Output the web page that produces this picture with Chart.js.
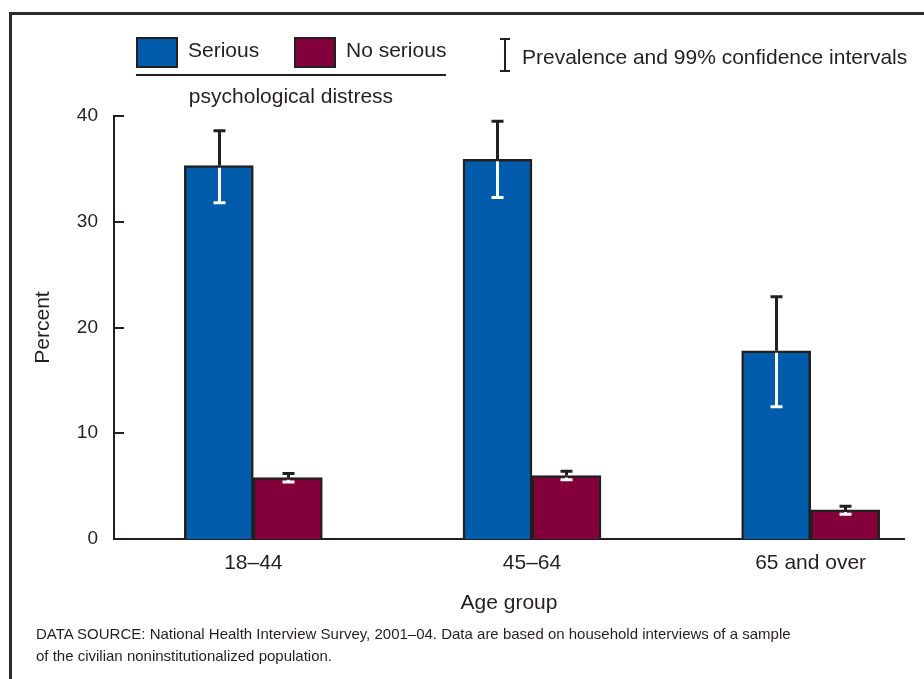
<!DOCTYPE html>
<html>
<head>
<meta charset="utf-8">
<script src="https://cdn.jsdelivr.net/npm/chart.js@4/dist/chart.umd.min.js"></script>
<style>
  html, body { margin: 0; padding: 0; background: #fff; overflow: hidden; }
  body { width: 924px; height: 679px; position: relative; font-family: "Liberation Sans", Arial, sans-serif; color: #231f20; }
  #frame { position: absolute; left: 9px; top: 12px; width: 1000px; height: 1000px;
           border-top: 3px solid #2b2b2b; border-left: 3px solid #2b2b2b; }
  #wrap { position: absolute; left: 0; top: 0; width: 924px; height: 679px; }
  .sw { position: absolute; top: 37px; width: 38px; height: 27px; border: 2px solid #231f20; }
  .txt { position: absolute; font-size: 21px; line-height: 24px; white-space: nowrap; }
  #rule { position: absolute; left: 136px; top: 74px; width: 310px; height: 2px; background: #231f20; }
  #ci-stem { position: absolute; left: 504px; top: 38px; width: 2px; height: 34px; background: #231f20; }
  .ci-cap { position: absolute; left: 500px; width: 10px; height: 2px; background: #231f20; }
  #note { position: absolute; left: 36px; top: 623px; font-size: 15px; line-height: 22px; }
</style>
</head>
<body>
<div id="frame"></div>
<div id="wrap"><canvas id="chart" width="924" height="679"></canvas></div>

<div class="sw" style="left:136px; background:#005baa;"></div>
<div class="txt" style="left:188px; top:38px;">Serious</div>
<div class="sw" style="left:294px; background:#84003a;"></div>
<div class="txt" style="left:346px; top:38px;">No serious</div>
<div id="rule"></div>
<div class="txt" style="left:136px; width:310px; top:84px; text-align:center;">psychological distress</div>

<div id="ci-stem"></div>
<div class="ci-cap" style="top:38px;"></div>
<div class="ci-cap" style="top:70px;"></div>
<div class="txt" style="left:522px; top:45px;">Prevalence and 99% confidence intervals</div>

<div id="note">DATA SOURCE: National Health Interview Survey, 2001–04. Data are based on household interviews of a sample<br>of the civilian noninstitutionalized population.</div>

<script>
// Age groups and prevalence (percent) with 99% confidence limits
const categories = ['18–44', '45–64', '65 and over'];
const serious      = [35.3, 35.9, 17.8];
const seriousLow   = [31.8, 32.3, 12.5];
const seriousHigh  = [38.6, 39.5, 22.9];
const noSerious     = [5.8, 6.0, 2.75];
const noSeriousLow  = [5.4, 5.6, 2.35];
const noSeriousHigh = [6.2, 6.4, 3.1];
const yTicks = [0, 10, 20, 30, 40];

const INK = '#231f20';
const FONT = '"Liberation Sans", Arial, sans-serif';

const toPoints = arr => arr.map((v, i) => ({ x: i, y: v }));

// Confidence interval whiskers: dark above the bar top, white inside the bar
const errorBars = {
  id: 'errorBars',
  afterDatasetsDraw(chart) {
    const { ctx, scales: { y } } = chart;
    const limits = [[seriousLow, seriousHigh], [noSeriousLow, noSeriousHigh]];
    chart.data.datasets.forEach((ds, di) => {
      const meta = chart.getDatasetMeta(di);
      meta.data.forEach((bar, i) => {
        const x = Math.round(bar.x) + 0.5;
        const top = y.getPixelForValue(ds.data[i].y);
        const hi = y.getPixelForValue(limits[di][1][i]);
        const lo = y.getPixelForValue(limits[di][0][i]);
        const cap = 6;
        ctx.save();
        ctx.lineWidth = 3;
        ctx.strokeStyle = INK;
        ctx.beginPath();
        ctx.moveTo(x, top); ctx.lineTo(x, hi);
        ctx.moveTo(x - cap, hi); ctx.lineTo(x + cap, hi);
        ctx.stroke();
        ctx.strokeStyle = '#ffffff';
        ctx.beginPath();
        ctx.moveTo(x, top + 2); ctx.lineTo(x, lo);
        ctx.moveTo(x - cap, lo); ctx.lineTo(x + cap, lo);
        ctx.stroke();
        ctx.restore();
      });
    });
  }
};

// Short inward tick marks on the value axis
const innerTicks = {
  id: 'innerTicks',
  afterDraw(chart) {
    const { ctx, scales: { y }, chartArea } = chart;
    ctx.save();
    ctx.strokeStyle = INK;
    ctx.lineWidth = 2;
    yTicks.forEach(v => {
      if (v === 0) return;
      const py = Math.round(y.getPixelForValue(v));
      ctx.beginPath();
      ctx.moveTo(chartArea.left, py);
      ctx.lineTo(chartArea.left + 10, py);
      ctx.stroke();
    });
    ctx.restore();
  }
};

new Chart(document.getElementById('chart'), {
  type: 'bar',
  data: {
    datasets: [
      { label: 'Serious', data: toPoints(serious), backgroundColor: '#005baa',
        borderColor: INK, borderWidth: 2.5, borderSkipped: 'bottom' },
      { label: 'No serious', data: toPoints(noSerious), backgroundColor: '#84003a',
        borderColor: INK, borderWidth: 2.5, borderSkipped: 'bottom' }
    ]
  },
  options: {
    responsive: false,
    animation: false,
    barThickness: 69,
    layout: { padding: { left: 27, right: 20, top: 116, bottom: 59 } },
    plugins: { legend: { display: false }, tooltip: { enabled: false } },
    scales: {
      x: {
        type: 'linear',
        offset: false,
        min: -0.5,
        max: 2.335,
        grid: { display: false, drawTicks: false },
        border: { display: true, color: INK, width: 2 },
        afterBuildTicks: s => { s.ticks = categories.map((c, i) => ({ value: i })); },
        afterFit: s => { s.height = 81; },
        ticks: {
          padding: 12,
          color: INK,
          font: { family: FONT, size: 21 },
          callback: v => categories[v]
        },
        title: { display: true, text: 'Age group', color: INK, font: { family: FONT, size: 21 } }
      },
      y: {
        min: 0,
        max: 40,
        grid: { display: false, drawTicks: false },
        border: { display: true, color: INK, width: 2 },
        afterBuildTicks: s => { s.ticks = yTicks.map(v => ({ value: v })); },
        afterFit: s => { s.width = 87; },
        ticks: { padding: 16, color: INK, font: { family: FONT, size: 19 } },
        title: { display: true, text: 'Percent', color: INK, font: { family: FONT, size: 21 } }
      }
    }
  },
  plugins: [errorBars, innerTicks]
});
</script>
</body>
</html>
